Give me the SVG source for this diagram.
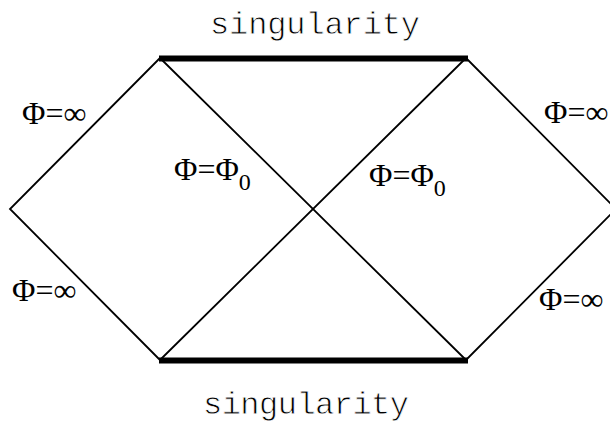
<svg xmlns="http://www.w3.org/2000/svg" width="610" height="430" viewBox="0 0 610 430">
<style>
.thin{stroke:#000;stroke-width:1.8;fill:none;stroke-linecap:round}
.thick{stroke:#000;stroke-width:6;fill:none;stroke-linecap:butt}
.phi{font-family:"Liberation Serif","Times New Roman",serif;font-size:32px;fill:#000}
.sub{font-size:24px}
.mono{font-family:"Liberation Mono","Courier New",monospace;font-size:32px;fill:#000;stroke:#fff;stroke-width:0.8}
</style>
<rect width="610" height="430" fill="#fff"/>
<g id="connectors">
<path class="thin" d="M160,58 L10,209 L160,360"/>
<path class="thin" d="M466,58 L616,209 L466,360"/>
<path class="thin" d="M160,58 L466,360"/>
<path class="thin" d="M466,58 L160,360"/>
<path class="thick" d="M159,58.5 L468,58.5"/>
<path class="thick" d="M159,360.5 L468,360.5"/>
</g>
<g id="label-singularity-top"><text class="mono" x="210" y="34" textLength="210" lengthAdjust="spacing">singularity</text></g>
<g id="label-singularity-bottom"><text class="mono" x="203" y="414" textLength="206" lengthAdjust="spacing">singularity</text></g>
<g id="label-tl"><text class="phi" x="22" y="124">Φ=∞</text></g>
<g id="label-tr"><text class="phi" x="544" y="123">Φ=∞</text></g>
<g id="label-bl"><text class="phi" x="12" y="301">Φ=∞</text></g>
<g id="label-br"><text class="phi" x="539" y="309.5">Φ=∞</text></g>
<g id="label-phi0-left"><text class="phi" x="174" y="180">Φ=Φ<tspan class="sub" dy="10">0</tspan></text></g>
<g id="label-phi0-right"><text class="phi" x="369" y="186">Φ=Φ<tspan class="sub" dy="10">0</tspan></text></g>
</svg>
